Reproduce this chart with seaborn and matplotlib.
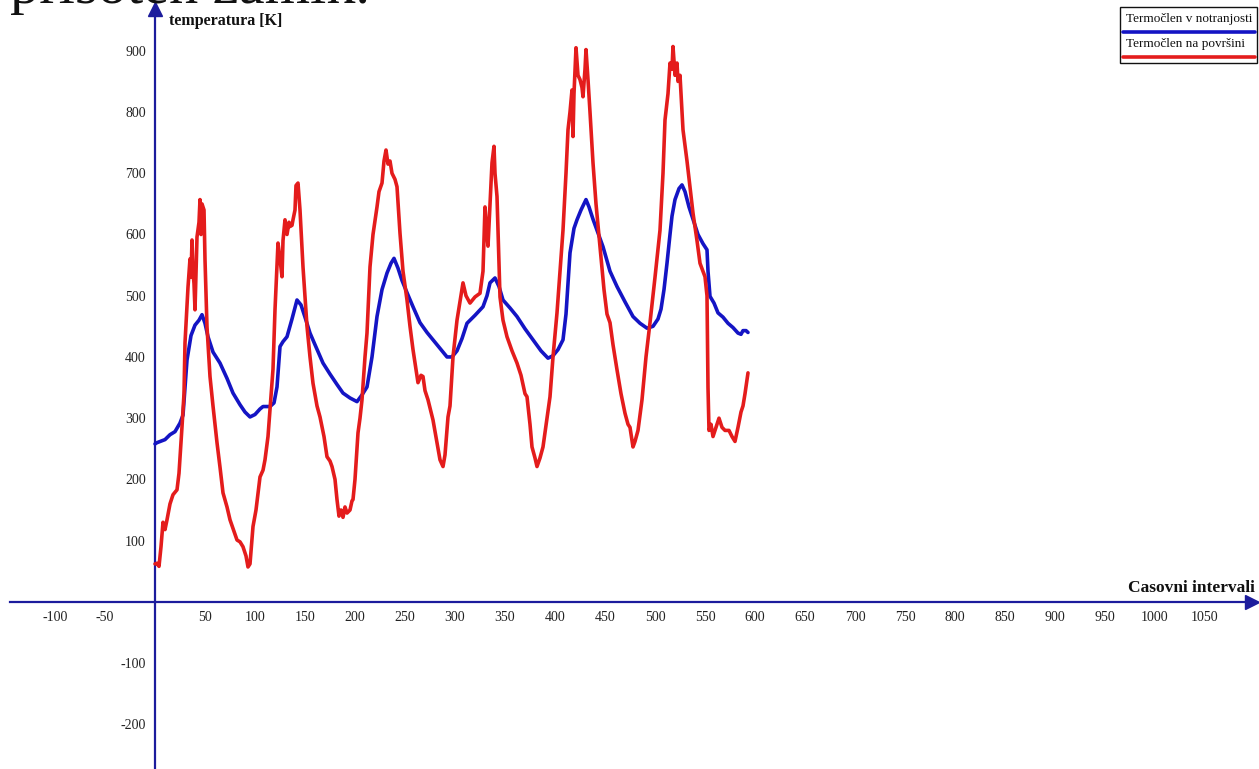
import matplotlib
matplotlib.use("Agg")
import matplotlib.pyplot as plt
import numpy as np
import pandas as pd
import seaborn as sns
from matplotlib.lines import Line2D
from matplotlib.patches import Rectangle

# ---------------- data ----------------
series_names = ["Termočlen v notranjosti", "Termočlen na površini"]

inner_t = [0, 2, 10, 15, 20, 25, 28, 32, 36, 40, 44, 47, 50, 53, 58, 65, 72, 78, 85, 90,
           95, 100, 105, 108, 115, 119, 122, 125, 128, 132, 137, 142, 146, 150, 155, 160,
           168, 175, 182, 188, 195, 202, 207, 212, 217, 222, 227, 232, 236, 239, 243, 247,
           252, 258, 265, 272, 278, 285, 292, 297, 302, 307, 312, 320, 328, 332, 335, 340,
           344, 348, 355, 362, 370, 378, 386, 393, 398, 403, 408, 411, 415, 419, 422, 426,
           431, 434, 438, 442, 448, 455, 462, 470, 478, 485, 492, 498, 503, 506, 509, 512,
           515, 517, 520, 524, 527, 530, 534, 538, 543, 548, 552, 553, 555, 559, 563, 568,
           573, 578, 583, 586, 588, 591, 593]
inner_T = [258, 260, 265, 273, 278, 292, 305, 395, 435, 452, 460, 469, 455, 433, 408, 390,
           365, 341, 322, 310, 302, 306, 315, 319, 319, 325, 351, 417, 425, 433, 462, 493,
           485, 465, 439, 420, 390, 372, 355, 341, 333, 327, 338, 351, 400, 466, 510, 537,
           553, 561, 545, 525, 505, 482, 456, 440, 428, 414, 400, 400, 410, 430, 455, 468,
           482, 500, 521, 529, 515, 493, 480, 466, 446, 428, 410, 398, 402, 412, 428, 470,
           570, 610, 624, 640, 657, 645, 625, 607, 580, 540, 515, 490, 466, 455, 447, 450,
           462, 478, 510, 553, 600, 630, 657, 675, 681, 670, 645, 625, 600, 585, 575, 540,
           499, 488, 472, 465, 455, 448, 439, 437, 443, 443, 440]

surface_t = [0, 2, 4, 6, 8, 10, 12, 15, 18, 22, 24, 27, 29, 30, 33, 35, 36, 37, 38, 39,
             40, 41, 42, 44, 45, 46, 47, 48, 49, 50, 52, 55, 58, 62, 65, 68, 72, 75, 78,
             82, 85, 88, 91, 93, 95, 98, 101, 105, 108, 110, 113, 115, 118, 120, 123, 125,
             127, 128, 130, 132, 134, 135, 137, 138, 140, 141, 143, 145, 148, 152, 155, 158,
             162, 165, 169, 172, 175, 177, 180, 182, 184, 186, 188, 190, 192, 195, 197, 198,
             200, 203, 205, 207, 210, 212, 215, 218, 222, 224, 227, 229, 231, 233, 235, 237,
             240, 242, 245, 248, 252, 255, 258, 261, 263, 266, 268, 270, 273, 276, 278, 282,
             285, 288, 290, 293, 295, 298, 302, 305, 308, 311, 315, 320, 325, 328, 330, 332,
             333, 335, 337, 339, 340, 342, 345, 348, 352, 357, 362, 366, 370, 372, 375, 377,
             380, 382, 385, 388, 392, 395, 398, 402, 405, 408, 411, 413, 415, 417, 418, 419,
             421, 423, 425, 427, 428, 430, 431, 433, 435, 438, 441, 445, 449, 452, 455, 458,
             462, 466, 470, 473, 475, 478, 480, 483, 487, 491, 495, 500, 505, 508, 510, 513,
             515, 517, 518, 520, 522, 523, 525, 528, 532, 538, 542, 545, 550, 552, 553, 554,
             556, 558, 561, 564, 567, 570, 574, 577, 580, 583, 586, 588, 590, 593]
surface_T = [62, 63, 58, 90, 130, 118, 134, 160, 175, 183, 210, 286, 340, 423, 514, 560,
             530, 591, 540, 520, 477, 540, 596, 620, 657, 600, 650, 645, 640, 559, 449, 368,
             320, 260, 220, 178, 155, 134, 120, 101, 98, 90, 75, 57, 62, 123, 150, 204, 215,
             232, 270, 314, 380, 477, 586, 560, 531, 590, 624, 600, 620, 613, 615, 624, 640,
             680, 684, 640, 547, 450, 400, 357, 320, 302, 270, 237, 230, 221, 200, 167, 140,
             150, 138, 155, 145, 150, 165, 167, 200, 276, 300, 330, 400, 439, 547, 600, 645,
             670, 684, 720, 738, 715, 720, 700, 690, 678, 602, 540, 493, 450, 412, 380, 358,
             370, 368, 345, 330, 310, 297, 260, 232, 221, 240, 302, 320, 400, 460, 490, 521,
             500, 488, 498, 504, 540, 645, 600, 581, 650, 717, 744, 700, 662, 498, 460, 433,
             410, 390, 370, 340, 335, 290, 253, 235, 221, 235, 253, 300, 335, 400, 472, 540,
             607, 700, 771, 800, 836, 760, 830, 905, 860, 853, 840, 825, 870, 902, 853, 800,
             717, 650, 580, 510, 470, 456, 420, 379, 340, 308, 290, 285, 253, 262, 280, 330,
             400, 456, 530, 607, 700, 787, 830, 880, 870, 907, 860, 880, 850, 860, 771, 720,
             635, 590, 553, 531, 500, 350, 280, 290, 270, 285, 300, 285, 280, 280, 270, 262,
             285, 310, 320, 340, 374]

x_ticks = [-100, -50, 50, 100, 150, 200, 250, 300, 350, 400, 450, 500, 550, 600, 650,
           700, 750, 800, 850, 900, 950, 1000, 1050]
y_ticks = [-200, -100, 100, 200, 300, 400, 500, 600, 700, 800, 900]

# ---------------- style ----------------
BLUE = "#1414c4"
RED = "#e41c1c"
AXIS = "#1c1c9c"

sns.set_style("white")
plt.rcParams["font.family"] = ["Liberation Serif", "DejaVu Serif"]

fig = plt.figure(figsize=(12.59, 7.69), dpi=100)
ax = fig.add_axes([0, 0, 1, 1])
ax.set_facecolor("white")

df_in = pd.DataFrame({"t": inner_t, "T": inner_T})
df_sf = pd.DataFrame({"t": surface_t, "T": surface_T})
sns.lineplot(data=df_in, x="t", y="T", ax=ax, color=BLUE, lw=2.6,
             sort=False, estimator=None, zorder=3)
sns.lineplot(data=df_sf, x="t", y="T", ax=ax, color=RED, lw=2.6,
             sort=False, estimator=None, zorder=4)

ax.set_xlim(-155, 1104)
ax.set_ylim(-273, 983)

for s in ["top", "right"]:
    ax.spines[s].set_visible(False)
for s in ["left", "bottom"]:
    ax.spines[s].set_position(("data", 0))
    ax.spines[s].set_color(AXIS)
    ax.spines[s].set_linewidth(1.6)
ax.spines["bottom"].set_bounds(-145, 1095)
ax.spines["left"].set_bounds(-273, 970)

ax.set_xticks(x_ticks)
ax.set_yticks(y_ticks)
ax.set_xticklabels([str(v) for v in x_ticks])
ax.set_yticklabels([str(v) for v in y_ticks])
ax.tick_params(axis="both", direction="inout", length=11, width=1.3, color=AXIS,
               labelsize=10, labelcolor="#222222", pad=1)
ax.set_xlabel("")
ax.set_ylabel("")

# arrow heads
ax.plot([1097], [0], marker=">", ms=10, color=AXIS, clip_on=False, zorder=5)
ax.plot([0], [968], marker="^", ms=10, color=AXIS, clip_on=False, zorder=5)

# axis titles
ax.text(14, 948, "temperatura [K]", fontsize=11.5, fontweight="bold",
        ha="left", va="center", color="#111111")
ax.text(1100, 10, "Casovni intervali", fontsize=12.5, fontweight="bold",
        ha="right", va="bottom", color="#111111")

# text cut at the top of the page
fig.text(0.008, 1 - 3 / 769, "prisoten zamik.", fontsize=42, ha="left",
         va="baseline", color="#111111")

# legend (text above the line)
x0, x1 = 1120 / 1259, 1257 / 1259
y_top, y_bot = 1 - 7 / 769, 1 - 63 / 769
ax.add_patch(Rectangle((x0, y_bot), x1 - x0, y_top - y_bot, transform=ax.transAxes,
                       fill=True, facecolor="white", edgecolor="#111111", lw=1.0,
                       zorder=6, clip_on=False))
for i, (name, col) in enumerate(zip(series_names, [BLUE, RED])):
    ty = 1 - (19 + i * 25) / 769
    ly = 1 - (32 + i * 25) / 769
    ax.text(1126 / 1259, ty, name, transform=ax.transAxes, fontsize=9.5,
            ha="left", va="center", color="#111111", zorder=7)
    ax.add_line(Line2D([1123 / 1259, 1255 / 1259], [ly, ly], transform=ax.transAxes,
                       color=col, lw=2.6, solid_capstyle="round", zorder=7))

fig.savefig("out.png", dpi=100, facecolor="white")
